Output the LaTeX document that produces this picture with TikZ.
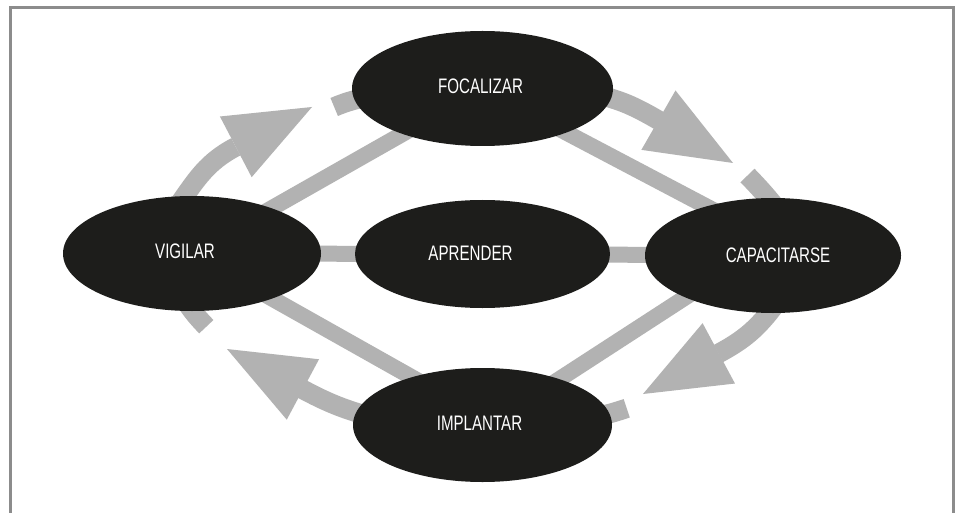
\documentclass[tikz,border=0pt]{standalone}
\usepackage{fontspec}
\newfontfamily\stagefont[FakeStretch=0.72]{Liberation Sans}
\usetikzlibrary{shapes.geometric,arrows.meta,backgrounds}
\definecolor{blob}{HTML}{1D1D1B}
\definecolor{linkgray}{HTML}{B2B2B2}
\definecolor{framegray}{HTML}{8C8C8C}

\begin{document}
\begin{tikzpicture}[x=1pt,y=1pt,
  stagebox/.style={ellipse, fill=blob, inner sep=0pt},
  stagetext/.style={text=white, font=\stagefont\fontsize{21}{21}\selectfont, inner sep=0pt},
  spoke/.style={draw=linkgray, line width=16pt},
  loopband/.style={draw=linkgray, line width=19.5pt},
  loophead/.style={loopband, -{Triangle[length=86pt,width=68.5pt,line width=0pt]}},
  framerule/.style={draw=framegray, line width=3pt},
]
\useasboundingbox (0,0) rectangle (957,512);

% the five stages
\node[stagebox, minimum width=261pt, minimum height=115pt,
  label={[stagetext, xshift=-2pt, yshift=1.8pt]center:FOCALIZAR}] (foc) at (482.5,423.5) {};
\node[stagebox, minimum width=258pt, minimum height=115pt,
  label={[stagetext, xshift=-7pt, yshift=2.3pt]center:VIGILAR}] (vig) at (192,258.5) {};
\node[stagebox, minimum width=255pt, minimum height=108pt,
  label={[stagetext, xshift=-12pt, yshift=1pt]center:APRENDER}] (apr) at (482.5,258) {};
\node[stagebox, minimum width=256pt, minimum height=115pt,
  label={[stagetext, xshift=5pt, yshift=0pt]center:CAPACITARSE}] (cap) at (773,256.5) {};
\node[stagebox, minimum width=259pt, minimum height=114pt,
  label={[stagetext, xshift=-3pt, yshift=2.2pt]center:IMPLANTAR}] (imp) at (482.5,87) {};

% points along the outer cycle
\coordinate (s1) at (178.3,306.8);
\coordinate (b1) at (235.5,365);
\coordinate (t1) at (312,405);
\coordinate (d1) at (334.2,405);
\coordinate (e1) at (372,416);

\coordinate (s2) at (599.4,416.9);
\coordinate (b2) at (659,391.5);
\coordinate (t2) at (733,349);
\coordinate (d2) at (747.5,336.5);
\coordinate (e2) at (781,298);

\coordinate (s3) at (775,207);
\coordinate (b3) at (718.5,158.5);
\coordinate (t3) at (643,118);
\coordinate (d3) at (626.7,103.7);
\coordinate (e3) at (595,95);

\coordinate (s4) at (368,96);
\coordinate (b4) at (302,123);
\coordinate (t4) at (227,163);
\coordinate (d4) at (206.3,185.3);
\coordinate (e4) at (185,212);

\begin{scope}[on background layer]
  \fill[white] (0,0) rectangle (957,512);
  \draw[framerule] (10.5,-10) |- (953,504.5) -- (953,-10);

  % spokes between the stages
  \draw[spoke] (vig.center) -- (apr.center);
  \draw[spoke] (apr.center) -- (cap.center);
  \draw[spoke] (vig.center) -- (foc.center);
  \draw[spoke] (foc.center) -- ([yshift=14pt]cap.center);
  \draw[spoke] ([yshift=15pt]cap.center) -- ([yshift=-4pt]imp.center);
  \draw[spoke] (vig.center) -- ([yshift=8pt]imp.center);

  % outer cycle, clockwise
  \draw[loophead] (s1) to[out=55,in=207.6] (b1) -- (t1);
  \draw[loopband] (d1) to[out=23,in=192] (e1);

  \draw[loophead] (s2) to[out=-14,in=150.1] (b2) -- (t2);
  \draw[loopband] (d2) to[out=-46,in=128] (e2);

  \draw[loophead] (s3) to[out=233,in=28.2] (b3) -- (t3);
  \draw[loopband] (d3) to[out=198.5,in=12] (e3);

  \draw[loophead] (s4) to[out=163.7,in=-28.1] (b4) -- (t4);
  \draw[loopband] (d4) to[out=133.5,in=-58] (e4);
\end{scope}
\end{tikzpicture}
\end{document}
